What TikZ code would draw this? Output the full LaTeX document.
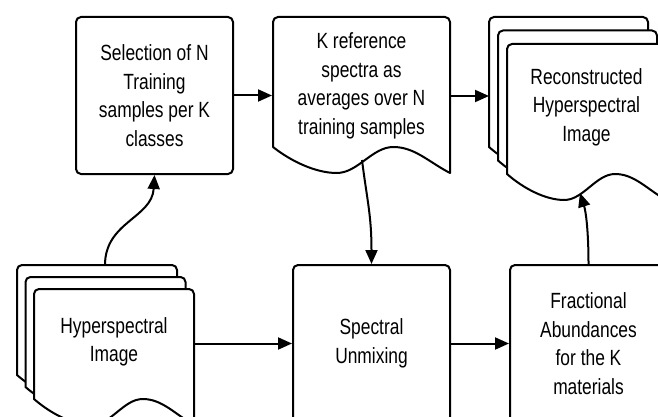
\documentclass[tikz,border=0pt]{standalone}
\usepackage{fontspec}
\setmainfont{Liberation Sans}[FakeStretch=0.79]
\usepackage{tikz}
\usetikzlibrary{arrows.meta, positioning, calc}

% one paper sheet with a wavy lower edge: x, y, width, height of left edge
\newcommand{\docsheet}[4]{%
  \filldraw[fill=white] ({#1},{#2+#4}) [rounded corners=5] -- ({#1},{#2}) -- ({#1+#3},{#2}) [sharp corners] -- ({#1+#3},{#2+#4+26})
    .. controls ({#1+0.88*#3},{#2+#4+15}) and ({#1+0.80*#3},{#2+#4}) .. ({#1+0.68*#3},{#2+#4})
    .. controls ({#1+0.56*#3},{#2+#4}) and ({#1+0.48*#3},{#2+#4+26}) .. ({#1+0.36*#3},{#2+#4+26})
    .. controls ({#1+0.24*#3},{#2+#4+26}) and ({#1+0.10*#3},{#2+#4+14}) .. ({#1},{#2+#4}) -- cycle;}

\begin{document}
\begin{tikzpicture}[x=1pt, y=-1pt, line width=2pt, line join=round,
  lbl/.style={font=\fontsize{22}{28.5}\selectfont, align=center, inner sep=0pt},
  box/.style={lbl, draw, fill=white, rounded corners=5, minimum width=157, minimum height=157},
  arr/.style={-{Triangle[length=14pt, width=12pt]}}]
  \useasboundingbox (0,0) rectangle (658,417);
  \clip (0,0) rectangle (658,417);

  % plain boxes
  \node[box] (sel) at (154.5,95.5) {Selection of N\\Training\\samples per K\\classes};
  \node[box] (unmix) at (371.5,343.5) {Spectral\\Unmixing};
  \node[box] (abund) at (588.5,343.5) {Fractional\\Abundances\\for the K\\materials};

  % document shapes
  \docsheet{273}{17}{177}{130}
  \node[lbl, minimum width=177] (refsp) at (361.5,86) {K reference\\spectra as\\averages over N\\training samples};
  \foreach \i in {0,1,2} {
    \docsheet{489+9*\i}{17+13.5*\i}{159}{130}
  }
  \node[lbl, minimum width=159] (recon) at (586.5,107) {Reconstructed\\Hyperspectral\\Image};
  \foreach \i in {0,1,2} {
    \docsheet{17+8.5*\i}{265+12*\i}{160}{110}
  }
  \node[lbl, minimum width=160] (hsi) at (114,342) {Hyperspectral\\Image};

  % free ends on the sheets
  \coordinate (reconback) at (489,96);
  \coordinate (reconwave) at (580,193);
  \coordinate (refspwave) at (362,160);
  \coordinate (hsitop) at (105,265);

  % connectors
  \draw[arr] (sel.east) -- (sel.east -| refsp.west);
  \draw[arr] (refsp.east |- reconback) -- (reconback);
  \draw[arr] (hsitop) .. controls (105,222) and (152,218) .. (sel.south);
  \draw[arr] (refspwave) .. controls (367,200) and (371.5,215) .. (unmix.north);
  \draw[arr] (hsi.east |- unmix.west) -- (unmix.west);
  \draw[arr] (unmix.east) -- (abund.west);
  \draw[arr] (abund.north) .. controls (588.5,232) and (586,212) .. (reconwave);
\end{tikzpicture}
\end{document}
